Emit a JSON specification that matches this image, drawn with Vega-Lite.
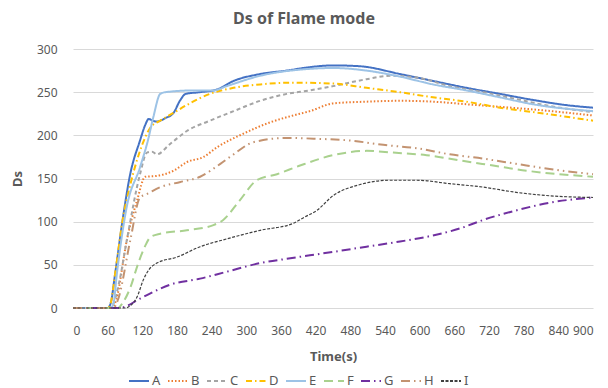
{
  "$schema": "https://vega.github.io/schema/vega-lite/v6.json",
  "width": 520,
  "height": 259,
  "autosize": {"type": "none"},
  "padding": {"left": 73, "top": 49, "right": 15, "bottom": 80},
  "background": "white",
  "title": {"text": "Ds of Flame mode", "font": "Noto Sans", "fontSize": 16, "fontWeight": "bold", "color": "#595959", "anchor": "middle", "dx": -29, "offset": 16},
  "config": {
    "view": {"stroke": null},
    "axis": {"labelFont": "Noto Sans", "labelFontSize": 12, "labelColor": "#595959", "titleFont": "Noto Sans", "titleFontSize": 13, "titleFontWeight": "bold", "titleColor": "#595959", "ticks": false, "domain": false, "gridColor": "#D9D9D9", "gridWidth": 1},
    "legend": {"labelFont": "Noto Sans", "labelFontSize": 13, "labelColor": "#595959"}
  },
  "data": {"values": [
    {"s":"A","t":0,"v":0},{"s":"A","t":60,"v":0},{"s":"A","t":65,"v":5},{"s":"A","t":73,"v":40},{"s":"A","t":85,"v":98},{"s":"A","t":99,"v":155},{"s":"A","t":116,"v":194},{"s":"A","t":125,"v":212},{"s":"A","t":131,"v":219},{"s":"A","t":138,"v":217},{"s":"A","t":145,"v":216},{"s":"A","t":160,"v":220},{"s":"A","t":174,"v":226},{"s":"A","t":185,"v":240},{"s":"A","t":195,"v":248},{"s":"A","t":220,"v":250},{"s":"A","t":249,"v":253},{"s":"A","t":278,"v":263},{"s":"A","t":324,"v":271},{"s":"A","t":370,"v":275},{"s":"A","t":410,"v":279},{"s":"A","t":450,"v":281},{"s":"A","t":497,"v":280},{"s":"A","t":566,"v":271},{"s":"A","t":623,"v":263},{"s":"A","t":681,"v":255},{"s":"A","t":739,"v":248},{"s":"A","t":796,"v":241},{"s":"A","t":854,"v":235},{"s":"A","t":900,"v":232},
    {"s":"B","t":0,"v":0},{"s":"B","t":68,"v":0},{"s":"B","t":75,"v":10},{"s":"B","t":93,"v":78},{"s":"B","t":111,"v":125},{"s":"B","t":125,"v":152},{"s":"B","t":145,"v":153},{"s":"B","t":174,"v":159},{"s":"B","t":197,"v":169},{"s":"B","t":226,"v":175},{"s":"B","t":249,"v":186},{"s":"B","t":295,"v":202},{"s":"B","t":341,"v":215},{"s":"B","t":381,"v":223},{"s":"B","t":410,"v":228},{"s":"B","t":450,"v":237},{"s":"B","t":508,"v":239},{"s":"B","t":566,"v":240},{"s":"B","t":623,"v":239},{"s":"B","t":681,"v":236},{"s":"B","t":739,"v":233},{"s":"B","t":796,"v":230},{"s":"B","t":900,"v":223},
    {"s":"C","t":0,"v":0},{"s":"C","t":65,"v":0},{"s":"C","t":70,"v":5},{"s":"C","t":80,"v":30},{"s":"C","t":93,"v":78},{"s":"C","t":116,"v":155},{"s":"C","t":128,"v":180},{"s":"C","t":137,"v":181},{"s":"C","t":145,"v":178},{"s":"C","t":168,"v":190},{"s":"C","t":197,"v":205},{"s":"C","t":237,"v":217},{"s":"C","t":278,"v":228},{"s":"C","t":324,"v":240},{"s":"C","t":370,"v":248},{"s":"C","t":410,"v":252},{"s":"C","t":450,"v":257},{"s":"C","t":508,"v":265},{"s":"C","t":549,"v":269},{"s":"C","t":595,"v":267},{"s":"C","t":652,"v":257},{"s":"C","t":710,"v":250},{"s":"C","t":767,"v":242},{"s":"C","t":825,"v":234},{"s":"C","t":900,"v":227},
    {"s":"D","t":0,"v":0},{"s":"D","t":60,"v":0},{"s":"D","t":64,"v":3},{"s":"D","t":75,"v":50},{"s":"D","t":85,"v":98},{"s":"D","t":100,"v":145},{"s":"D","t":116,"v":182},{"s":"D","t":134,"v":209},{"s":"D","t":151,"v":217},{"s":"D","t":174,"v":226},{"s":"D","t":202,"v":237},{"s":"D","t":237,"v":248},{"s":"D","t":278,"v":255},{"s":"D","t":324,"v":259},{"s":"D","t":381,"v":261},{"s":"D","t":450,"v":260},{"s":"D","t":508,"v":255},{"s":"D","t":566,"v":250},{"s":"D","t":623,"v":244},{"s":"D","t":681,"v":239},{"s":"D","t":739,"v":232},{"s":"D","t":796,"v":227},{"s":"D","t":900,"v":217},
    {"s":"E","t":0,"v":0},{"s":"E","t":65,"v":0},{"s":"E","t":70,"v":5},{"s":"E","t":76,"v":40},{"s":"E","t":93,"v":117},{"s":"E","t":116,"v":163},{"s":"E","t":130,"v":195},{"s":"E","t":139,"v":221},{"s":"E","t":151,"v":248},{"s":"E","t":160,"v":250},{"s":"E","t":209,"v":252},{"s":"E","t":243,"v":252},{"s":"E","t":266,"v":257},{"s":"E","t":324,"v":269},{"s":"E","t":410,"v":277},{"s":"E","t":450,"v":278},{"s":"E","t":508,"v":275},{"s":"E","t":566,"v":268},{"s":"E","t":623,"v":259},{"s":"E","t":681,"v":252},{"s":"E","t":739,"v":244},{"s":"E","t":796,"v":236},{"s":"E","t":900,"v":228},
    {"s":"F","t":0,"v":0},{"s":"F","t":78,"v":0},{"s":"F","t":85,"v":5},{"s":"F","t":100,"v":25},{"s":"F","t":111,"v":48},{"s":"F","t":125,"v":72},{"s":"F","t":134,"v":82},{"s":"F","t":151,"v":86},{"s":"F","t":197,"v":90},{"s":"F","t":243,"v":96},{"s":"F","t":260,"v":102},{"s":"F","t":289,"v":125},{"s":"F","t":318,"v":148},{"s":"F","t":353,"v":155},{"s":"F","t":393,"v":165},{"s":"F","t":450,"v":177},{"s":"F","t":508,"v":182},{"s":"F","t":554,"v":180},{"s":"F","t":612,"v":177},{"s":"F","t":669,"v":171},{"s":"F","t":727,"v":165},{"s":"F","t":785,"v":159},{"s":"F","t":900,"v":152},
    {"s":"G","t":0,"v":0},{"s":"G","t":80,"v":0},{"s":"G","t":95,"v":3},{"s":"G","t":111,"v":9},{"s":"G","t":134,"v":17},{"s":"G","t":168,"v":27},{"s":"G","t":220,"v":34},{"s":"G","t":266,"v":42},{"s":"G","t":324,"v":52},{"s":"G","t":370,"v":57},{"s":"G","t":410,"v":61},{"s":"G","t":450,"v":65},{"s":"G","t":508,"v":71},{"s":"G","t":566,"v":77},{"s":"G","t":623,"v":84},{"s":"G","t":669,"v":92},{"s":"G","t":710,"v":102},{"s":"G","t":767,"v":113},{"s":"G","t":825,"v":122},{"s":"G","t":900,"v":128},
    {"s":"H","t":0,"v":0},{"s":"H","t":70,"v":0},{"s":"H","t":78,"v":10},{"s":"H","t":99,"v":78},{"s":"H","t":116,"v":128},{"s":"H","t":128,"v":132},{"s":"H","t":151,"v":140},{"s":"H","t":186,"v":146},{"s":"H","t":220,"v":152},{"s":"H","t":255,"v":167},{"s":"H","t":278,"v":178},{"s":"H","t":312,"v":192},{"s":"H","t":370,"v":197},{"s":"H","t":422,"v":196},{"s":"H","t":479,"v":194},{"s":"H","t":537,"v":189},{"s":"H","t":595,"v":185},{"s":"H","t":652,"v":178},{"s":"H","t":710,"v":173},{"s":"H","t":767,"v":167},{"s":"H","t":825,"v":161},{"s":"H","t":900,"v":155},
    {"s":"I","t":0,"v":0},{"s":"I","t":90,"v":0},{"s":"I","t":100,"v":3},{"s":"I","t":111,"v":13},{"s":"I","t":122,"v":33},{"s":"I","t":131,"v":44},{"s":"I","t":145,"v":52},{"s":"I","t":180,"v":59},{"s":"I","t":220,"v":71},{"s":"I","t":266,"v":80},{"s":"I","t":324,"v":90},{"s":"I","t":381,"v":98},{"s":"I","t":400,"v":105},{"s":"I","t":422,"v":113},{"s":"I","t":450,"v":130},{"s":"I","t":497,"v":143},{"s":"I","t":549,"v":148},{"s":"I","t":595,"v":148},{"s":"I","t":652,"v":144},{"s":"I","t":710,"v":140},{"s":"I","t":767,"v":134},{"s":"I","t":825,"v":130},{"s":"I","t":900,"v":128}
  ]},
  "mark": {"type": "line", "interpolate": "monotone"},
  "encoding": {
    "x": {"field": "t", "type": "quantitative", "scale": {"domain": [0, 900], "nice": false}, "axis": {"values": [0,60,120,180,240,300,360,420,480,540,600,660,720,780,840,900], "grid": false, "labelPadding": 17, "labelOverlap": false, "title": "Time(s)", "titlePadding": 14}},
    "y": {"field": "v", "type": "quantitative", "scale": {"domain": [0, 300], "nice": false}, "axis": {"values": [0,50,100,150,200,250,300], "labelPadding": 16, "title": "Ds", "titlePadding": 12}},
    "color": {"field": "s", "type": "nominal", "scale": {"domain": ["A","B","C","D","E","F","G","H","I"], "range": ["#4472C4","#ED7D31","#A5A5A5","#FFC000","#9DC3E6","#A9D18E","#7030A0","#C39371","#404040"]},
      "legend": {"title": null, "orient": "none", "legendX": 55, "legendY": 321, "direction": "horizontal", "columns": 9, "symbolType": "stroke", "symbolSize": 400, "symbolStrokeWidth": 2, "labelOffset": 2, "columnPadding": 3}},
    "strokeDash": {"field": "s", "type": "nominal", "scale": {"domain": ["A","B","C","D","E","F","G","H","I"], "range": [[1,0],[1.5,2],[4,3],[6,3,1.5,3],[1,0],[9,5],[9,4,1.5,4],[9,4,1.5,4,1.5,4],[3,1.5]]}},
    "strokeWidth": {"condition": {"test": "datum.s === 'I'", "value": 1.2}, "value": 2}
  }
}
